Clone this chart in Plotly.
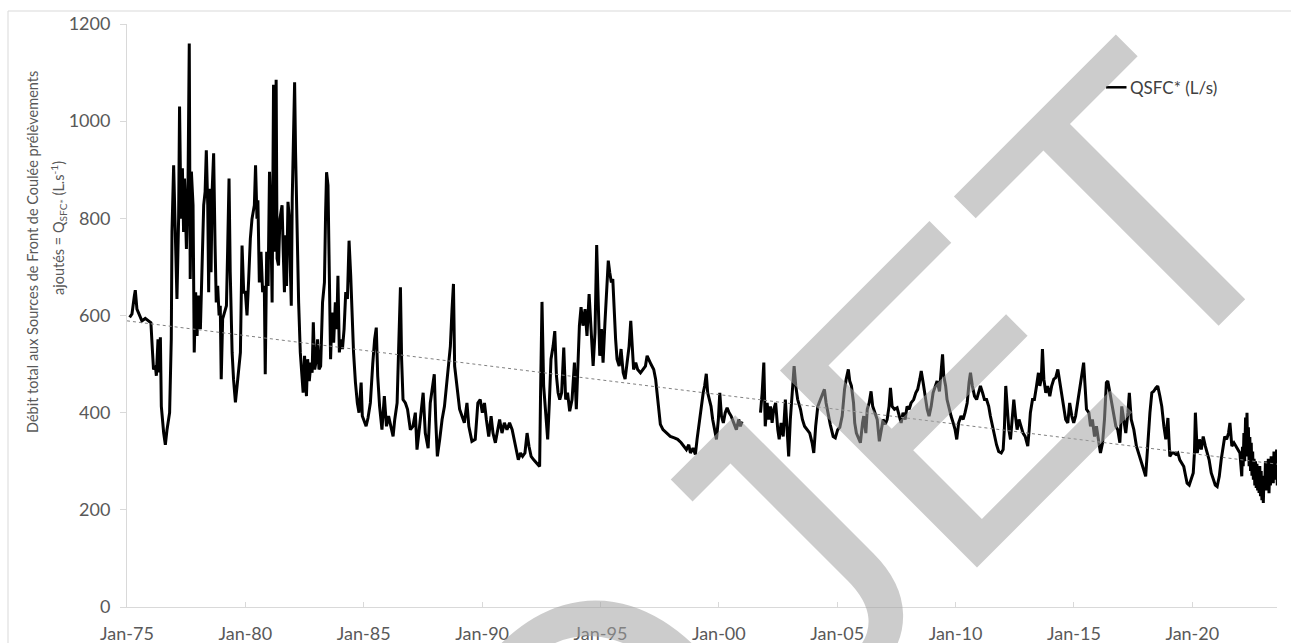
import pandas as pd
import plotly.graph_objects as go

# Flow at the Front de Coulée springs, as (years since Jan 1975, L/s)
flow_1975_1985 = [
    (0.11, 596), (0.21, 603), (0.31, 640), (0.35, 652), (0.42, 613), (0.53, 600), (0.63, 589),
    (0.77, 594), (0.91, 589), (1.01, 585), (1.07, 531), (1.12, 489), (1.20, 496), (1.24, 476),
    (1.31, 551), (1.35, 483), (1.41, 555), (1.45, 413), (1.55, 358), (1.62, 334), (1.69, 365),
    (1.80, 400), (1.87, 551), (1.90, 772), (1.97, 909), (2.04, 765), (2.11, 634), (2.18, 799),
    (2.22, 1030), (2.28, 799), (2.34, 903), (2.39, 772), (2.43, 882), (2.51, 737), (2.58, 882),
    (2.63, 1160), (2.67, 675), (2.72, 896), (2.79, 827), (2.84, 524), (2.90, 648), (2.96, 558),
    (3.02, 641), (3.10, 572), (3.17, 731), (3.24, 827), (3.30, 855), (3.35, 940), (3.41, 827),
    (3.45, 648), (3.49, 861), (3.55, 689), (3.60, 861), (3.66, 934), (3.72, 744), (3.77, 627),
    (3.83, 661), (3.89, 600), (3.94, 620), (3.98, 469), (4.04, 593), (4.11, 607), (4.20, 620),
    (4.25, 731), (4.31, 882), (4.36, 689), (4.44, 524), (4.50, 469), (4.58, 421), (4.65, 455),
    (4.71, 489), (4.79, 524), (4.86, 744), (4.93, 648), (5.00, 648), (5.07, 600), (5.14, 675),
    (5.21, 758), (5.28, 799), (5.38, 827), (5.43, 909), (5.49, 799), (5.53, 837), (5.59, 668),
    (5.66, 731), (5.73, 648), (5.80, 661), (5.84, 479), (5.90, 731), (5.96, 661), (6.02, 896),
    (6.08, 785), (6.13, 627), (6.19, 1075), (6.24, 731), (6.30, 1085), (6.34, 717), (6.40, 703),
    (6.46, 799), (6.55, 827), (6.60, 731), (6.65, 648), (6.70, 765), (6.74, 661), (6.80, 834),
    (6.86, 799), (6.90, 696), (6.94, 620), (6.98, 841), (7.04, 1006), (7.08, 1080), (7.12, 937),
    (7.18, 772), (7.25, 627), (7.32, 524), (7.39, 469), (7.44, 441), (7.50, 517), (7.58, 434),
    (7.63, 510), (7.70, 465), (7.77, 503), (7.82, 482), (7.87, 586), (7.93, 489), (8.00, 510),
    (8.05, 551), (8.11, 489), (8.18, 496), (8.26, 627), (8.34, 668), (8.39, 813), (8.43, 895),
    (8.49, 868), (8.55, 627), (8.60, 510), (8.66, 606), (8.73, 544), (8.80, 627), (8.86, 572),
    (8.91, 682), (8.97, 524), (9.02, 551), (9.10, 531), (9.17, 572), (9.24, 648), (9.31, 634),
    (9.38, 754), (9.45, 682), (9.51, 593), (9.57, 524), (9.65, 462), (9.73, 420), (9.80, 400),
    (9.89, 462), (9.94, 393),
]

flow_1985_2001 = [
    (10.03, 379), (10.10, 372), (10.18, 389), (10.28, 420), (10.38, 500), (10.46, 551),
    (10.53, 575), (10.59, 476), (10.67, 413), (10.77, 365), (10.87, 434), (10.96, 372),
    (11.05, 393), (11.15, 372), (11.24, 351), (11.31, 386), (11.41, 420), (11.47, 524),
    (11.55, 658), (11.60, 510), (11.66, 427), (11.76, 420), (11.85, 407), (11.97, 365),
    (12.08, 372), (12.18, 400), (12.25, 324), (12.36, 372), (12.51, 441), (12.60, 358),
    (12.72, 327), (12.81, 420), (12.90, 455), (12.98, 479), (13.04, 386), (13.11, 310),
    (13.21, 345), (13.31, 386), (13.41, 413), (13.49, 455), (13.58, 489), (13.66, 537),
    (13.73, 613), (13.79, 665), (13.84, 496), (13.91, 469), (13.98, 441), (14.05, 407),
    (14.15, 393), (14.25, 379), (14.36, 420), (14.44, 372), (14.57, 341), (14.71, 345),
    (14.82, 420), (14.92, 427), (15.01, 400), (15.10, 420), (15.18, 386), (15.28, 351),
    (15.38, 393), (15.46, 358), (15.56, 338), (15.63, 358), (15.74, 386), (15.84, 358),
    (15.94, 379), (16.05, 365), (16.16, 379), (16.27, 365), (16.36, 345), (16.45, 324),
    (16.53, 303), (16.62, 317), (16.71, 310), (16.81, 317), (16.90, 358), (16.98, 331),
    (17.07, 310), (17.18, 303), (17.32, 296), (17.43, 289), (17.47, 441), (17.53, 628),
    (17.60, 455), (17.68, 400), (17.77, 345), (17.84, 420), (17.91, 510), (18.00, 537),
    (18.07, 568), (18.14, 476), (18.21, 441), (18.28, 427), (18.36, 441), (18.45, 534),
    (18.53, 427), (18.61, 441), (18.70, 403), (18.80, 427), (18.90, 503), (18.98, 407),
    (19.04, 496), (19.11, 579), (19.18, 617), (19.26, 579), (19.35, 613), (19.43, 558),
    (19.52, 644), (19.60, 565), (19.69, 496), (19.77, 565), (19.84, 745), (19.91, 620),
    (19.97, 517), (20.04, 572), (20.11, 503), (20.19, 586), (20.28, 654), (20.33, 713),
    (20.39, 689), (20.46, 668), (20.52, 675), (20.59, 593), (20.64, 551), (20.70, 510),
    (20.79, 496), (20.87, 531), (20.96, 482), (21.04, 469), (21.12, 503), (21.21, 537),
    (21.28, 589), (21.35, 537), (21.40, 489), (21.49, 503), (21.57, 489), (21.69, 482),
    (21.80, 489), (21.90, 496), (21.97, 517), (22.05, 510), (22.14, 499), (22.25, 489),
    (22.33, 469), (22.39, 441), (22.46, 400), (22.53, 376), (22.64, 365), (22.78, 358),
    (22.95, 351), (23.12, 348), (23.26, 345), (23.41, 338), (23.52, 331), (23.63, 324),
    (23.73, 334), (23.80, 317), (23.91, 327), (24.01, 314), (24.08, 345), (24.15, 372),
    (24.25, 413), (24.34, 441), (24.40, 455), (24.47, 480), (24.53, 441), (24.60, 427),
    (24.67, 413), (24.74, 386), (24.81, 365), (24.90, 345), (24.98, 386), (25.04, 441),
    (25.11, 393), (25.19, 379), (25.27, 400), (25.35, 410), (25.43, 400), (25.52, 393),
    (25.63, 379), (25.74, 365), (25.84, 386), (25.91, 372), (25.98, 382),
]

flow_2001_2023 = [
    (26.76, 400), (26.83, 441), (26.90, 503), (26.96, 372), (27.04, 420), (27.11, 386),
    (27.18, 413), (27.25, 379), (27.32, 407), (27.40, 420), (27.49, 365), (27.55, 345),
    (27.63, 379), (27.72, 351), (27.81, 427), (27.89, 372), (27.95, 310), (28.02, 386),
    (28.10, 448), (28.18, 496), (28.25, 455), (28.33, 427), (28.45, 407), (28.53, 386),
    (28.62, 372), (28.73, 365), (28.84, 358), (28.94, 338), (29.01, 317), (29.09, 372),
    (29.18, 413), (29.29, 427), (29.39, 441), (29.46, 448), (29.53, 420), (29.60, 400),
    (29.71, 375), (29.83, 351), (29.92, 348), (30.02, 365), (30.11, 370), (30.21, 393),
    (30.31, 448), (30.38, 469), (30.47, 489), (30.53, 465), (30.60, 455), (30.69, 420),
    (30.74, 379), (30.81, 358), (30.90, 345), (30.98, 338), (31.07, 379), (31.12, 393),
    (31.21, 358), (31.27, 407), (31.35, 420), (31.43, 444), (31.50, 413), (31.58, 403),
    (31.69, 386), (31.78, 341), (31.87, 365), (31.94, 386), (32.03, 376), (32.11, 386),
    (32.19, 413), (32.25, 451), (32.32, 413), (32.42, 407), (32.53, 410), (32.61, 393),
    (32.70, 379), (32.78, 400), (32.87, 386), (32.95, 413), (33.04, 407), (33.12, 420),
    (33.23, 427), (33.32, 441), (33.40, 448), (33.49, 469), (33.55, 486), (33.63, 462),
    (33.72, 427), (33.80, 407), (33.88, 393), (33.97, 413), (34.05, 441), (34.14, 455),
    (34.22, 465), (34.32, 444), (34.40, 489), (34.45, 520), (34.50, 476), (34.58, 455),
    (34.64, 427), (34.73, 407), (34.81, 393), (34.90, 379), (34.98, 365), (35.05, 345),
    (35.13, 379), (35.23, 393), (35.32, 386), (35.40, 400), (35.49, 420), (35.57, 462),
    (35.63, 482), (35.71, 455), (35.80, 434), (35.89, 427), (35.97, 441), (36.05, 455),
    (36.14, 441), (36.22, 427), (36.31, 427), (36.40, 413), (36.47, 393), (36.56, 372),
    (36.64, 351), (36.73, 334), (36.82, 320), (36.93, 317), (37.01, 324), (37.06, 365),
    (37.12, 455), (37.18, 400), (37.25, 365), (37.32, 345), (37.39, 386), (37.46, 427),
    (37.53, 393), (37.60, 365), (37.68, 386), (37.77, 372), (37.85, 358), (37.94, 351),
    (38.05, 331), (38.11, 365), (38.16, 400), (38.25, 427), (38.33, 427), (38.42, 455),
    (38.50, 482), (38.56, 455), (38.62, 469), (38.67, 531), (38.73, 469), (38.81, 441),
    (38.89, 455), (38.98, 434), (39.06, 455), (39.15, 469), (39.23, 472), (39.32, 489),
    (39.40, 462), (39.48, 434), (39.57, 407), (39.65, 386), (39.74, 379), (39.82, 420),
    (39.91, 393), (39.99, 379), (40.07, 393), (40.16, 420), (40.24, 448), (40.32, 469),
    (40.41, 503), (40.47, 455), (40.53, 407), (40.63, 400), (40.70, 372), (40.78, 386),
    (40.87, 351), (40.95, 372), (41.04, 345), (41.12, 317), (41.21, 338), (41.29, 386),
    (41.37, 462), (41.43, 465), (41.52, 441), (41.60, 420), (41.69, 400), (41.77, 372),
    (41.85, 365), (41.94, 338), (42.02, 413), (42.11, 386), (42.19, 358), (42.28, 400),
    (42.34, 441), (42.42, 386), (42.53, 365), (42.64, 331), (42.76, 310), (42.87, 296),
    (42.95, 282), (43.03, 269), (43.12, 338), (43.21, 400), (43.29, 441), (43.37, 444),
    (43.46, 451), (43.54, 455), (43.63, 434), (43.71, 413), (43.80, 372), (43.88, 345),
    (43.97, 389), (44.05, 310), (44.14, 317), (44.22, 317), (44.31, 314), (44.39, 317),
    (44.47, 303), (44.56, 296), (44.64, 289), (44.72, 269), (44.78, 255), (44.87, 251),
    (44.95, 262), (45.04, 276), (45.09, 317), (45.13, 400), (45.21, 317), (45.30, 345),
    (45.38, 324), (45.46, 351), (45.55, 331), (45.63, 317), (45.71, 303), (45.80, 276),
    (45.88, 262), (45.97, 251), (46.05, 248), (46.14, 269), (46.22, 303), (46.31, 331),
    (46.37, 351), (46.45, 345), (46.53, 358), (46.59, 379), (46.67, 331), (46.76, 338),
    (46.84, 331), (46.93, 324), (47.01, 317), (47.09, 269), (47.12, 330), (47.15, 290),
    (47.18, 358), (47.21, 300), (47.25, 390), (47.28, 320), (47.31, 400), (47.34, 310),
    (47.37, 370), (47.40, 290), (47.43, 350), (47.46, 280), (47.49, 338), (47.52, 270),
    (47.55, 320), (47.58, 262), (47.61, 305), (47.64, 250), (47.67, 300), (47.70, 245),
    (47.73, 295), (47.76, 240), (47.79, 282), (47.82, 235), (47.85, 290), (47.88, 228),
    (47.91, 280), (47.94, 220), (47.97, 265), (48.00, 214), (48.03, 270), (48.06, 245),
    (48.09, 300), (48.12, 240), (48.15, 289), (48.18, 250), (48.21, 305), (48.24, 234),
    (48.27, 290), (48.30, 250), (48.33, 310), (48.36, 260), (48.39, 303), (48.42, 255),
    (48.45, 320), (48.48, 262), (48.51, 300), (48.54, 269), (48.56, 324), (48.59, 250),
]

# Linear trend (start / end of record)
trend_t = [0.0, 48.58]
trend_q = [589, 294]

tick_years = [1975, 1980, 1985, 1990, 1995, 2000, 2005, 2010, 2015, 2020]

ORIGIN = pd.Timestamp("1975-01-01")


def to_date(t):
    return ORIGIN + pd.Timedelta(days=t * 365.25)


x, y = [], []
for seg_i, seg in enumerate([flow_1975_1985, flow_1985_2001, flow_2001_2023]):
    if seg_i == 2:  # missing record during 2001
        x.append(None)
        y.append(None)
    for t, q in seg:
        x.append(to_date(t))
        y.append(q)

AXIS_GREY = "#d9d9d9"
TEXT_GREY = "#595959"

fig = go.Figure()
fig.add_trace(go.Scatter(
    x=x, y=y, mode="lines", name="QSFC* (L/s)",
    line=dict(color="black", width=3), connectgaps=False, showlegend=False,
))
fig.add_trace(go.Scatter(
    x=[to_date(t) for t in trend_t], y=trend_q, mode="lines", name="trend",
    line=dict(color="#808080", width=1, dash="dot"), showlegend=False,
))

W, H = 1291, 643
L, R, T, B = 127, 14, 24, 36
PW, PH = W - L - R, H - T - B


def px(xp):
    return (xp - L) / PW


def py(yp):
    return (H - B - yp) / PH


fig.update_layout(
    width=W, height=H,
    margin=dict(l=L, r=R, t=T, b=B),
    paper_bgcolor="white", plot_bgcolor="white",
    font=dict(family="Lato", color=TEXT_GREY),
    xaxis=dict(
        type="date",
        range=[ORIGIN, "2023-07-31"],
        tickvals=[pd.Timestamp(f"{yr}-01-01") for yr in tick_years],
        tickformat="%b-%y",
        tickfont=dict(family="Lato", size=18, color=TEXT_GREY),
        showline=True, linecolor=AXIS_GREY, linewidth=1,
        ticks="inside", ticklen=5, tickcolor=AXIS_GREY,
        showgrid=False, zeroline=False,
        ticklabelstandoff=10, automargin=False,
    ),
    yaxis=dict(
        range=[0, 1200], dtick=200,
        tickfont=dict(family="Lato", size=18, color=TEXT_GREY),
        showline=True, linecolor=AXIS_GREY, linewidth=1,
        ticks="outside", ticklen=6, tickcolor=AXIS_GREY,
        showgrid=False, zeroline=False,
        ticklabelstandoff=6, automargin=False,
    ),
    shapes=[
        # chart frame
        dict(type="line", xref="paper", yref="paper", x0=px(8), x1=px(1300), y0=py(11), y1=py(11),
             line=dict(color=AXIS_GREY, width=1)),
        dict(type="line", xref="paper", yref="paper", x0=px(8), x1=px(8), y0=py(11), y1=py(660),
             line=dict(color=AXIS_GREY, width=1)),
        # legend key
        dict(type="line", xref="paper", yref="paper", x0=px(1106), x1=px(1126.5), y0=py(87.3), y1=py(87.3),
             line=dict(color="black", width=2.5)),
    ],
    annotations=[
        dict(text="Débit total aux Sources de Front de Coulée prélèvements",
             xref="paper", yref="paper", x=px(32), y=py(252), textangle=-90,
             showarrow=False, xanchor="center", yanchor="middle",
             font=dict(family="Lato", size=14.5, color=TEXT_GREY)),
        dict(text="ajoutés = Q<sub>SFC*</sub> (L.s<sup>-1</sup>)",
             xref="paper", yref="paper", x=px(58), y=py(228), textangle=-90,
             showarrow=False, xanchor="center", yanchor="middle",
             font=dict(family="Lato", size=14.5, color=TEXT_GREY)),
        dict(text="QSFC* (L/s)", xref="paper", yref="paper", x=px(1128), y=py(87.3),
             showarrow=False, xanchor="left", yanchor="middle",
             font=dict(family="Lato", size=17, color="#404040")),
        # draft watermark
        dict(text="PROJET", xref="paper", yref="paper", x=px(655), y=py(690),
             textangle=-45, showarrow=False, xanchor="center", yanchor="middle",
             font=dict(family="Liberation Sans", size=405, color="rgba(163,163,163,0.55)")),
    ],
)

fig.write_html("out.html")
